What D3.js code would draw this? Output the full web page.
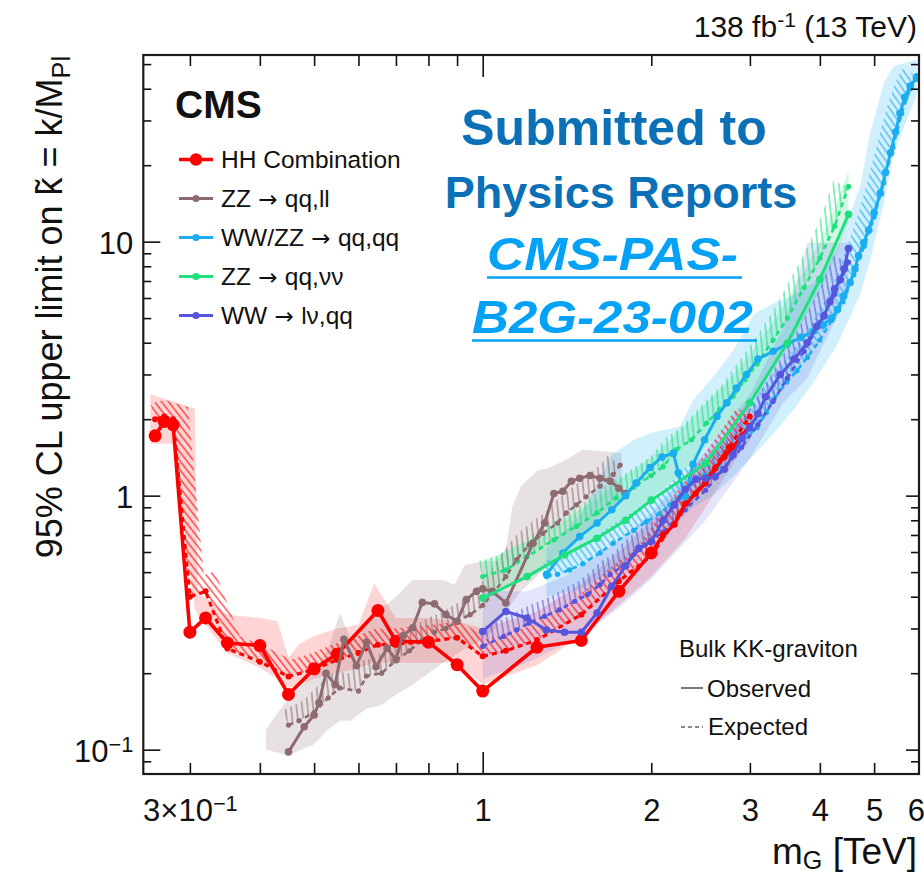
<!DOCTYPE html>
<html>
<head>
<meta charset="utf-8">
<script src="https://cdn.jsdelivr.net/npm/d3@7"></script>
<style>
  html, body { margin: 0; padding: 0; background: #fff; }
  svg { display: block; }
  text { font-family: "Liberation Sans", Arial, Helvetica, sans-serif; fill: #111; }
  .arrow { font-family: "DejaVu Sans", sans-serif; }
</style>
</head>
<body>
<svg id="chart" width="924" height="875"></svg>
<script>
// ---------------- Limits on k~ = k/M_Pl vs graviton mass [TeV] ----------------

// HH combination
const hhObsMass = [0.26,0.27,0.28,0.30,0.32,0.35,0.40,0.45,0.50,0.55,0.65,0.70,0.80,0.90,1.0,1.25,1.5,1.75,2.0,2.1,2.2,2.3,2.4,2.5,2.6,2.7,2.8,2.9,3.0];
const hhObsVal  = [1.72,1.96,1.90,0.29,0.33,0.263,0.257,0.165,0.208,0.238,0.353,0.267,0.265,0.216,0.170,0.253,0.269,0.42,0.595,0.70,0.77,0.93,1.02,1.12,1.28,1.42,1.55,1.72,1.88];
const hhExpMass = [0.26,0.27,0.28,0.30,0.32,0.35,0.40,0.45,0.50,0.55,0.60,0.65,0.70,0.80,0.90,1.0,1.1,1.25,1.5,1.75,2.0,2.25,2.5,2.75,3.0];
const hhExpVal  = [2.0,2.05,2.0,0.40,0.42,0.25,0.222,0.194,0.207,0.226,0.24,0.259,0.26,0.267,0.276,0.233,0.245,0.27,0.34,0.46,0.58,0.85,1.15,1.55,2.05];
const hhBandMass = [0.255,0.28,0.306,0.31,0.35,0.40,0.43,0.45,0.47,0.50,0.55,0.60,0.64,0.70,0.80,0.90,1.0,1.25,1.5,1.75,2.0,2.3,2.5,2.9,3.0];
const hhBandHi   = [2.50,2.35,2.20,0.42,0.34,0.33,0.32,0.23,0.26,0.28,0.30,0.31,0.45,0.33,0.33,0.32,0.30,0.35,0.45,0.60,0.80,1.0,1.35,2.2,2.45];
const hhBandLo   = [1.60,1.60,0.36,0.34,0.24,0.21,0.19,0.175,0.18,0.19,0.20,0.21,0.22,0.22,0.22,0.22,0.18,0.215,0.28,0.37,0.48,0.68,0.90,1.5,1.65];

// ZZ -> qq,ll
const zzllObsMass = [0.45,0.48,0.50,0.51,0.525,0.545,0.565,0.595,0.62,0.645,0.675,0.70,0.72,0.75,0.78,0.82,0.86,0.90,0.935,0.975,1.0,1.04,1.10,1.23,1.29,1.34,1.39,1.44,1.49,1.555,1.62,1.69,1.75,1.80];
const zzllObsVal  = [0.098,0.123,0.137,0.153,0.20,0.18,0.272,0.214,0.265,0.212,0.251,0.226,0.281,0.302,0.38,0.375,0.34,0.32,0.39,0.42,0.43,0.42,0.378,0.65,0.78,1.02,1.04,1.14,1.17,1.20,1.17,1.14,1.07,1.02];
const zzllExpMass = [0.45,0.47,0.50,0.53,0.555,0.60,0.62,0.66,0.70,0.74,0.78,0.82,0.86,0.90,0.95,1.0,1.05,1.10,1.15,1.21,1.28,1.36,1.41,1.47,1.53,1.62,1.71,1.76];
const zzllExpVal  = [0.125,0.13,0.14,0.16,0.175,0.17,0.195,0.20,0.225,0.245,0.27,0.29,0.30,0.32,0.34,0.37,0.42,0.48,0.56,0.64,0.71,0.78,0.855,0.92,0.99,1.09,1.21,1.32];
const zzllBandMass = [0.41,0.45,0.50,0.53,0.556,0.58,0.62,0.66,0.70,0.75,0.80,0.85,0.89,0.93,1.0,1.05,1.10,1.13,1.17,1.25,1.33,1.42,1.51,1.60,1.67,1.77];
const zzllBandHi   = [0.12,0.16,0.20,0.25,0.345,0.275,0.32,0.36,0.40,0.467,0.467,0.467,0.446,0.535,0.55,0.55,0.62,0.91,1.09,1.25,1.30,1.40,1.52,1.50,1.49,1.47];
const zzllBandLo   = [0.10,0.095,0.105,0.12,0.13,0.13,0.145,0.15,0.165,0.18,0.20,0.22,0.235,0.25,0.27,0.30,0.35,0.38,0.42,0.48,0.56,0.63,0.72,0.80,0.88,0.97];

// WW/ZZ -> qq,qq
const jjObsMass = [1.30,1.39,1.49,1.60,1.70,1.80,1.88,1.99,2.09,2.19,2.235,2.30,2.375,2.49,2.62,2.73,2.84,2.96,3.10,3.30,3.50,3.70,3.90,4.05,4.20,4.30,4.41,4.53,4.62,4.69,4.79,4.89,5.0,5.13,5.24,5.35,5.46,5.56,5.67,5.80,5.95];
const jjObsVal  = [0.49,0.595,0.69,0.78,0.88,1.0,1.12,1.29,1.42,1.47,1.23,0.99,1.33,1.66,2.05,2.32,2.65,3.0,3.45,3.7,3.95,4.2,4.45,4.7,5.0,5.4,6.1,6.9,7.8,8.8,9.9,11.1,13,15.5,18.7,22.4,27,32,37,41,44];
const jjExpMass = [1.30,1.36,1.43,1.51,1.62,1.71,1.86,1.96,2.07,2.16,2.25,2.36,2.49,2.62,2.77,2.92,3.09,3.21,3.31,3.49,3.64,3.80,4.00,4.20,4.40,4.60,4.80,5.00,5.20,5.40,5.60,5.80,5.95];
const jjExpVal  = [0.48,0.49,0.51,0.54,0.595,0.65,0.73,0.79,0.85,0.92,0.99,1.12,1.20,1.28,1.47,1.66,1.85,2.12,2.4,2.8,3.1,3.5,4.1,4.9,5.8,7.4,9.6,12.5,17,23.5,32,40,45];
const jjBandMass = [1.30,1.50,1.70,1.86,2.0,2.25,2.38,2.60,2.81,3.05,3.30,3.60,3.90,4.29,4.72,4.92,5.20,5.41,5.96];
const jjBandHi   = [0.62,0.85,1.45,1.66,1.77,1.87,2.39,3.0,3.76,5.2,5.7,6.2,6.9,9.3,16.5,26.8,42,49,52];
const jjBandLo   = [0.40,0.43,0.50,0.58,0.66,0.80,0.90,1.02,1.20,1.45,1.75,2.2,2.8,3.9,6.2,8.5,14,22,38];

// ZZ -> qq,nunu
const vvObsMass = [1.0,1.2,1.4,1.6,1.8,2.0,2.5,3.0,3.5,4.0,4.5];
const vvObsVal  = [0.395,0.48,0.585,0.68,0.80,0.96,1.34,2.32,3.99,7.1,12.8];
const vvExpMass = [1.0,1.1,1.2,1.34,1.47,1.6,1.73,1.86,2.0,2.1,2.22,2.36,2.51,2.65,2.8,2.94,3.09,3.3,3.5,3.75,4.0,4.25,4.5];
const vvExpVal  = [0.48,0.51,0.575,0.67,0.757,0.855,0.98,1.08,1.2,1.30,1.52,1.66,1.93,2.18,2.46,2.86,3.3,4.1,5.0,6.6,8.6,11.5,16.5];
const vvBandMass = [1.0,1.2,1.4,1.6,1.8,2.0,2.25,2.5,2.75,3.0,3.25,3.5,3.75,4.0,4.25,4.5];
const vvBandHi   = [0.55,0.66,0.80,0.98,1.2,1.42,1.8,2.3,2.85,3.6,4.6,5.9,7.7,10.0,13.5,19];
const vvBandLo   = [0.40,0.47,0.56,0.68,0.82,0.98,1.2,1.55,1.9,2.4,3.0,3.8,4.9,6.4,8.5,12];

// WW -> lnu,qq
const lvObsMass = [1.0,1.1,1.2,1.3,1.4,1.5,1.6,1.7,1.8,1.9,2.0,2.1,2.2,2.3,2.4,2.5,2.6,2.7,2.8,2.9,3.0,3.1,3.2,3.4,3.6,3.8,3.95,4.07,4.17,4.25,4.35,4.42,4.5];
const lvObsVal  = [0.292,0.35,0.33,0.296,0.29,0.29,0.345,0.44,0.53,0.62,0.66,0.80,0.92,1.06,1.16,1.17,1.19,1.27,1.45,1.68,1.85,2.1,2.45,3.0,3.45,4.0,4.64,5.1,5.8,6.5,7.1,7.8,9.4];
const lvExpMass = [1.0,1.09,1.15,1.21,1.29,1.37,1.46,1.54,1.62,1.69,1.78,1.86,1.95,2.1,2.3,2.5,2.7,2.9,3.1,3.3,3.5,3.75,4.0,4.25,4.5];
const lvExpVal  = [0.255,0.279,0.296,0.315,0.335,0.355,0.384,0.408,0.446,0.49,0.527,0.586,0.64,0.72,0.88,1.05,1.28,1.55,1.9,2.35,2.9,3.7,4.8,6.2,8.3];
const lvBandMass = [1.0,1.2,1.4,1.6,1.8,2.0,2.5,3.0,3.43,3.8,4.0,4.5];
const lvBandHi   = [0.42,0.42,0.48,0.58,0.70,0.85,1.5,2.5,4.5,9.9,9.9,9.9];
const lvBandLo   = [0.19,0.22,0.26,0.31,0.38,0.47,0.80,1.4,2.3,2.9,3.7,6.2];

// Legend entries (process, decay products) and colours
const legendProcess = ["HH Combination", "ZZ", "WW/ZZ", "ZZ", "WW"];
const legendDecay   = ["", "qq,ll", "qq,qq", "qq,\u03bd\u03bd", "l\u03bd,qq"];
const seriesColors  = ["#ff0000", "#8d6b71", "#1aaef0", "#1fe07c", "#5555dd"];

// Axis ticks and labels
const xTickValues = [0.3,0.4,0.5,0.6,0.7,0.8,0.9,1,2,3,4,5,6];
const xTickLabels = ["3\u00d710^\u22121","","","","","","","1","2","3","4","5","6"];
const xMajorTicks = [1];
const yTickValues = [0.09,0.1,0.2,0.3,0.4,0.5,0.6,0.7,0.8,0.9,1,2,3,4,5,6,7,8,9,10,20,30,40,50];
const yTickLabels = ["","10^\u22121","","","","","","","","","1","","","","","","","","","10","","","",""];
const yMajorTicks = [0.1,1,10];

// ---------------------------------------------------------------------------
const svg = d3.select("#chart");
const plot = { left: 143.3, right: 919, top: 55, bottom: 774 };

const x = d3.scaleLog().domain([0.2477, 6.013]).range([plot.left, plot.right]);
const y = d3.scaleLog().domain([0.0802, 54.3]).range([plot.bottom, plot.top]);

const zip = (m, v) => m.map((d, i) => ({ m: d, v: v[i] }));
const zipBand = (m, lo, hi) => m.map((d, i) => ({ m: d, lo: lo[i], hi: hi[i] }));

const series = [
  { obs: zip(hhObsMass, hhObsVal), exp: zip(hhExpMass, hhExpVal), band: zipBand(hhBandMass, hhBandLo, hhBandHi),
    bandOp: 0.17, hatchAngle: -38, obsW: 3.6, expW: 3.2, expR: 3.0, r: d => (d.m > 2.05 ? 3.2 : 6.5), legR: 6.2 },
  { obs: zip(zzllObsMass, zzllObsVal), exp: zip(zzllExpMass, zzllExpVal), band: zipBand(zzllBandMass, zzllBandLo, zzllBandHi),
    bandOp: 0.2, hatchAngle: -6, obsW: 3.0, expW: 2.6, expR: 2.6, r: () => 3.8, legR: 3.6 },
  { obs: zip(jjObsMass, jjObsVal), exp: zip(jjExpMass, jjExpVal), band: zipBand(jjBandMass, jjBandLo, jjBandHi),
    bandOp: 0.2, hatchAngle: -35, obsW: 3.0, expW: 2.6, expR: 2.6, r: () => 3.8, legR: 3.6 },
  { obs: zip(vvObsMass, vvObsVal), exp: zip(vvExpMass, vvExpVal), band: zipBand(vvBandMass, vvBandLo, vvBandHi),
    bandOp: 0.2, hatchAngle: -6, obsW: 3.0, expW: 2.6, expR: 2.6, r: () => 3.8, legR: 3.6 },
  { obs: zip(lvObsMass, lvObsVal), exp: zip(lvExpMass, lvExpVal), band: zipBand(lvBandMass, lvBandLo, lvBandHi),
    bandOp: 0.16, hatchAngle: -10, obsW: 3.0, expW: 2.6, expR: 2.6, r: () => 3.8, legR: 3.6 }
];
series.forEach((s, i) => { s.color = seriesColors[i]; });

const defs = svg.append("defs");
defs.append("clipPath").attr("id", "plotClip").append("rect")
  .attr("x", plot.left).attr("y", plot.top)
  .attr("width", plot.right - plot.left).attr("height", plot.bottom - plot.top);

// hatch patterns for the excluded side of each expected curve
series.forEach((s, i) => {
  const p = defs.append("pattern").attr("id", "hatch" + i)
    .attr("patternUnits", "userSpaceOnUse").attr("width", 5.5).attr("height", 5.5)
    .attr("patternTransform", `rotate(${s.hatchAngle})`);
  p.append("line").attr("x1", 1).attr("y1", 0).attr("x2", 1).attr("y2", 5.5)
    .attr("stroke", s.color).attr("stroke-width", 1.4).attr("stroke-opacity", 0.72);
});

// offset strip on the upper side of a polyline (pixel space)
function ribbon(pts, w) {
  const n = pts.length, nrm = [];
  for (let i = 0; i < n - 1; i++) {
    const dx = pts[i + 1][0] - pts[i][0], dy = pts[i + 1][1] - pts[i][1];
    const l = Math.hypot(dx, dy) || 1;
    nrm.push([dy / l, -dx / l]);
  }
  const off = pts.map((p, i) => {
    const a = nrm[Math.max(0, i - 1)], b = nrm[Math.min(n - 2, i)];
    let nx = a[0] + b[0], ny = a[1] + b[1];
    const l = Math.hypot(nx, ny) || 1; nx /= l; ny /= l;
    const c = Math.max(0.6, nx * b[0] + ny * b[1]);
    return [p[0] + nx * w / c, p[1] + ny * w / c];
  });
  return pts.concat(off.reverse());
}

const data = svg.append("g").attr("clip-path", "url(#plotClip)");
const area = d3.area().x(d => x(d.m)).y0(d => y(d.lo)).y1(d => y(d.hi));
const line = d3.line().x(d => x(d.m)).y(d => y(d.v));

// uncertainty bands
series.forEach(s => {
  data.append("path").datum(s.band).attr("d", area)
    .attr("fill", s.color).attr("fill-opacity", s.bandOp);
});

// hatched strips
series.forEach((s, i) => {
  const pts = s.exp.map(d => [x(d.m), y(d.v)]);
  data.append("path").attr("d", "M" + ribbon(pts, 16).join("L") + "Z")
    .attr("fill", `url(#hatch${i})`);
});

// expected limits
series.forEach(s => {
  data.append("path").datum(s.exp).attr("d", line)
    .attr("fill", "none").attr("stroke", s.color).attr("stroke-width", s.expW)
    .attr("stroke-dasharray", "5,4");
  data.append("g").selectAll("circle").data(s.exp).join("circle")
    .attr("cx", d => x(d.m)).attr("cy", d => y(d.v)).attr("r", s.expR)
    .attr("fill", s.color);
});

// observed limits
series.forEach(s => {
  data.append("path").datum(s.obs).attr("d", line)
    .attr("fill", "none").attr("stroke", s.color).attr("stroke-width", s.obsW)
    .attr("stroke-linejoin", "round");
  data.append("g").selectAll("circle").data(s.obs).join("circle")
    .attr("cx", d => x(d.m)).attr("cy", d => y(d.v)).attr("r", s.r)
    .attr("fill", s.color);
});

// ---------------- axes ----------------
function supLabel(sel, label) {
  const parts = label.split("^");
  sel.text(parts[0]);
  if (parts[1]) sel.append("tspan").attr("dy", -10).attr("font-size", "70%").text(parts[1]);
}
function styleAxis(g) {
  g.attr("font-size", 31).attr("font-family", null).attr("color", "#111");
  g.select(".domain").remove();
  g.selectAll(".tick line").attr("stroke-width", 1.6);
}

const gxB = svg.append("g").attr("transform", `translate(0,${plot.bottom})`)
  .call(d3.axisBottom(x).tickValues(xTickValues).tickSizeInner(-11).tickSizeOuter(0)
    .tickPadding(25).tickFormat((d, i) => xTickLabels[i]));
styleAxis(gxB);
gxB.selectAll(".tick text").each(function (d, i) { supLabel(d3.select(this), xTickLabels[i]); });
gxB.selectAll(".tick line").filter(d => xMajorTicks.includes(d)).attr("y2", -22);
// keep the last label inside the canvas
gxB.selectAll(".tick text").filter(d => d === 6).attr("text-anchor", "end").attr("x", 6);

const gxT = svg.append("g").attr("transform", `translate(0,${plot.top})`)
  .call(d3.axisTop(x).tickValues(xTickValues).tickSizeInner(-11).tickSizeOuter(0).tickFormat(""));
styleAxis(gxT);
gxT.selectAll(".tick line").filter(d => xMajorTicks.includes(d)).attr("y2", 22);

const gyL = svg.append("g").attr("transform", `translate(${plot.left},0)`)
  .call(d3.axisLeft(y).tickValues(yTickValues).tickSizeInner(-8).tickSizeOuter(0)
    .tickPadding(10).tickFormat((d, i) => yTickLabels[i]));
styleAxis(gyL);
gyL.selectAll(".tick text").attr("dy", "0.37em")
  .each(function (d, i) { supLabel(d3.select(this), yTickLabels[i]); });
gyL.selectAll(".tick line").filter(d => yMajorTicks.includes(d)).attr("x2", 17);

const gyR = svg.append("g").attr("transform", `translate(${plot.right},0)`)
  .call(d3.axisRight(y).tickValues(yTickValues).tickSizeInner(-8).tickSizeOuter(0).tickFormat(""));
styleAxis(gyR);
gyR.selectAll(".tick line").filter(d => yMajorTicks.includes(d)).attr("x2", -13);

// frame
svg.append("rect").attr("x", plot.left).attr("y", plot.top)
  .attr("width", plot.right - plot.left).attr("height", plot.bottom - plot.top)
  .attr("fill", "none").attr("stroke", "#1a1a1a").attr("stroke-width", 2.2);

// axis titles
const xt = svg.append("text").attr("x", 917).attr("y", 864).attr("text-anchor", "end").attr("font-size", 37);
xt.append("tspan").text("m");
xt.append("tspan").attr("font-size", "68%").attr("dy", 5).text("G");
xt.append("tspan").attr("dy", -5).text(" [TeV]");

const yt = svg.append("text").attr("transform", "translate(62,56) rotate(-90)")
  .attr("text-anchor", "end").attr("font-size", 36);
yt.append("tspan").text("95% CL upper limit on k\u0303 = k/M");
yt.append("tspan").attr("font-size", "70%").attr("dy", 8).text("Pl");

// luminosity / energy
const lum = svg.append("text").attr("x", 917).attr("y", 37).attr("text-anchor", "end").attr("font-size", 30);
lum.append("tspan").text("138 fb");
lum.append("tspan").attr("font-size", "70%").attr("dy", -10).text("-1");
lum.append("tspan").attr("dy", 10).text(" (13 TeV)");

// CMS label
svg.append("text").attr("x", 175).attr("y", 118).attr("font-size", 39).attr("font-weight", "bold").text("CMS");

// legend of analyses
const leg = svg.append("g");
series.forEach((s, i) => {
  const cy = 159.5 + i * 39;
  leg.append("line").attr("x1", 179).attr("x2", 213).attr("y1", cy).attr("y2", cy)
    .attr("stroke", s.color).attr("stroke-width", i === 0 ? 3.6 : 3.2);
  leg.append("circle").attr("cx", 196).attr("cy", cy).attr("r", s.legR).attr("fill", s.color);
  const t = leg.append("text").attr("x", 221).attr("y", cy + 8.3).attr("font-size", 24.5);
  t.append("tspan").text(legendProcess[i]);
  if (legendDecay[i]) {
    t.append("tspan").attr("class", "arrow").attr("font-size", 23).text(" \u2192 ");
    t.append("tspan").text(legendDecay[i]);
  }
});

// legend of line styles
svg.append("text").attr("x", 679).attr("y", 657).attr("font-size", 24).text("Bulk KK-graviton");
svg.append("line").attr("x1", 681).attr("x2", 703).attr("y1", 688).attr("y2", 688)
  .attr("stroke", "#7a7a7a").attr("stroke-width", 2);
svg.append("text").attr("x", 707).attr("y", 697).attr("font-size", 24).text("Observed");
svg.append("line").attr("x1", 681).attr("x2", 703).attr("y1", 727).attr("y2", 727)
  .attr("stroke", "#8a8a8a").attr("stroke-width", 2).attr("stroke-dasharray", "4,3");
svg.append("text").attr("x", 708).attr("y", 735).attr("font-size", 24).text("Expected");

// publication note
const note = svg.append("g").attr("font-weight", "bold");
note.append("text").attr("x", 614).attr("y", 145).attr("text-anchor", "middle").attr("font-size", 50)
  .style("fill", "#0b70b6").text("Submitted to");
note.append("text").attr("x", 621).attr("y", 208).attr("text-anchor", "middle").attr("font-size", 45)
  .style("fill", "#0b70b6").text("Physics Reports");
const linkColor = "#04a2f6";
[["CMS-PAS-", 487, 742, 270], ["B2G-23-002", 472, 757, 333]].forEach(([t, x0, x1, by]) => {
  note.append("text").attr("x", x0).attr("y", by).attr("font-size", 46).attr("font-style", "italic")
    .attr("textLength", x1 - x0 - 4).attr("lengthAdjust", "spacingAndGlyphs")
    .style("fill", linkColor).text(t);
  note.append("line").attr("x1", x0).attr("x2", x1).attr("y1", by + 7.5).attr("y2", by + 7.5)
    .attr("stroke", linkColor).attr("stroke-width", 2.4);
});
</script>
</body>
</html>
